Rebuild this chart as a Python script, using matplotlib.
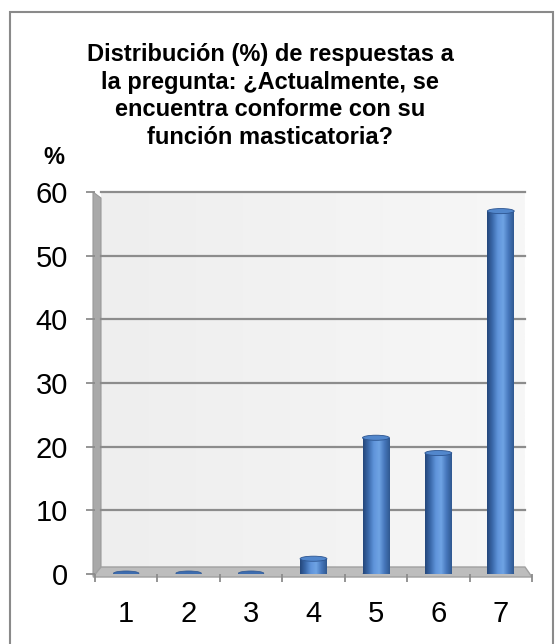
import numpy as np
import matplotlib
matplotlib.use("Agg")
import matplotlib.pyplot as plt
from matplotlib.patches import Polygon, Rectangle, Ellipse

plt.rcParams['font.family'] = ['Liberation Sans', 'DejaVu Sans']

categories = ['1', '2', '3', '4', '5', '6', '7']
values = [0, 0, 0, 2.4, 21.4, 19.0, 57.0]
yticks = [0, 10, 20, 30, 40, 50, 60]
title = "Distribución (%) de respuestas a\nla pregunta: ¿Actualmente, se\nencuentra conforme con su\nfunción masticatoria?"

W, H = 555, 644
fig = plt.figure(figsize=(W / 100, H / 100), dpi=100)
fig.patch.set_facecolor('white')

# axes placement (pixels)
L, R, B, T = 95, 532, 574, 192
ax = fig.add_axes([L / W, 1 - B / H, (R - L) / W, (B - T) / H])
ax.set_xlim(0.5, 7.5)
ax.set_ylim(0, 60)
ax.patch.set_alpha(0)
for s in ax.spines.values():
    s.set_visible(False)

def axc(px, py):
    return ((px - L) / (R - L), (B - py) / (B - T))

# back wall with subtle gradient
wx0, wx1 = axc(101, 0)[0], axc(525, 0)[0]
grad = np.linspace(0, 1, 256).reshape(1, -1)
ax.imshow(grad, extent=[wx0, wx1, axc(0, 567)[1], 1.0], transform=ax.transAxes,
          cmap=matplotlib.colors.LinearSegmentedColormap.from_list('w', ['#eeeeee', '#f7f7f7']),
          aspect='auto', zorder=0)

# left side wall
side = Polygon([axc(93, 192), axc(101, 198), axc(101, 569), axc(93, 576)], closed=True,
               transform=ax.transAxes, facecolor='#a9a9a9', edgecolor='#9a9a9a', lw=0.8,
               clip_on=False, zorder=1)
ax.add_patch(side)

# floor
floor = Polygon([axc(93, 577), axc(532, 577), axc(525, 567), axc(101, 567)], closed=True,
                transform=ax.transAxes, facecolor='#bdbdbd', edgecolor='#a0a0a0', lw=1.0,
                clip_on=False, zorder=1)
ax.add_patch(floor)

# gridlines
for yv in yticks[1:]:
    ax.plot([wx0, wx1], [ax.transLimits.transform((1, yv))[1]] * 2, transform=ax.transAxes,
            color='#8c8c8c', lw=1.6, zorder=2, clip_on=False)

# bars with cylinder gradient
xpos = np.arange(1, len(categories) + 1)
bw = 0.43
cyl = matplotlib.colors.LinearSegmentedColormap.from_list(
    'cyl', ['#24467a', '#3a69aa', '#5f94da', '#6fa3e4', '#4677bb', '#2f5890'])
bars = ax.bar(xpos, values, width=bw, color='#4a7bc0', zorder=3)
for rect, v in zip(bars, values):
    x0 = rect.get_x()
    if v > 0:
        im = ax.imshow(grad, extent=[x0, x0 + bw, 0, v], cmap=cyl, aspect='auto', zorder=3.5)
        im.set_clip_path(rect)
        ax.add_patch(Ellipse((x0 + bw / 2, v), bw, 0.8, facecolor='#5287cc',
                             edgecolor='#2d5590', lw=0.6, zorder=4))
        ax.add_patch(Ellipse((x0 + bw / 2, 0), bw, 0.8, facecolor='#2f5a96',
                             edgecolor='none', zorder=3.2))
    else:
        ax.add_patch(Ellipse((x0 + bw / 2, 0.1), bw * 0.95, 0.75, facecolor='#3d6cae',
                             edgecolor='#2d5590', lw=0.5, zorder=4))

# ticks
ax.set_yticks(yticks)
ax.set_yticklabels([str(t) for t in yticks], fontsize=21)
ax.tick_params(axis='y', length=6.5, width=1.3, color='#8c8c8c', pad=13, direction='out')
ax.set_xticks(xpos)
ax.set_xticklabels(categories, fontsize=21)
ax.tick_params(axis='x', which='major', length=0, pad=19)
ax.set_xticks(np.arange(0.5, 8.0, 1.0), minor=True)
ax.tick_params(axis='x', which='minor', length=6, width=1.3, color='#8c8c8c')

# % label
fig.text(54 / W, 1 - 157 / H, '%', fontsize=17, fontweight='bold', ha='center', va='center')

# title
fig.text(270 / W, 1 - 96 / H, title, fontsize=17, fontweight='bold', ha='center',
         va='center', linespacing=1.27)

# outer border
fig.add_artist(Rectangle((10 / W, -0.05), (553 - 10) / W, 1 - 12 / H + 0.05,
                         transform=fig.transFigure, fill=False, edgecolor='#8a8a8a', lw=1.5))

fig.savefig('out.png', dpi=100)
